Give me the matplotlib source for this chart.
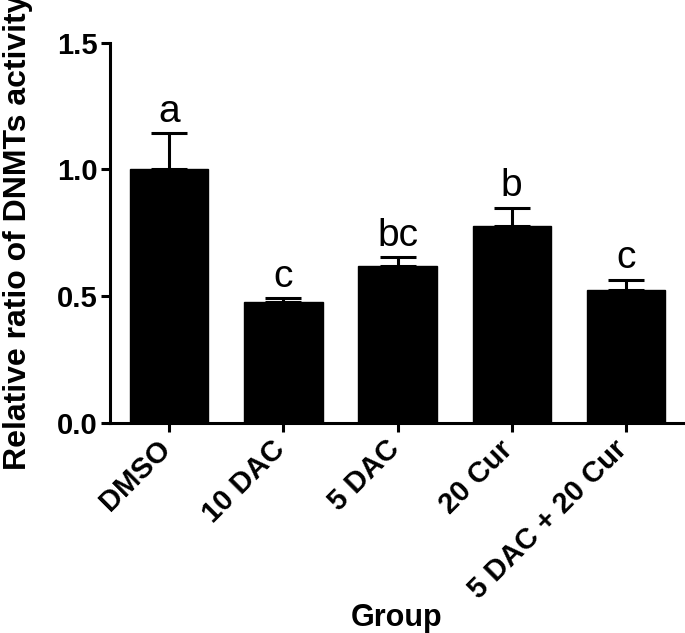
# plot.py
# Bar chart of relative DNMT activity per treatment group, with SEM bars and letters.

import numpy as np
import matplotlib
matplotlib.use('Agg')
import matplotlib.pyplot as plt
import matplotlib.transforms as mtransforms

plt.rcParams['font.family'] = ['Liberation Sans', 'DejaVu Sans']

# Data
groups = ['DMSO', '10 DAC', '5 DAC', '20 Cur', '5 DAC + 20 Cur']
means = [1.00, 0.475, 0.620, 0.775, 0.522]
errors = [0.142, 0.015, 0.032, 0.073, 0.042]
letters = ['a', 'c', 'bc', 'b', 'c']

x = np.arange(len(groups))

fig = plt.figure(figsize=(6.85, 6.33), dpi=100)
ax = fig.add_axes([0.1606, 0.3325, 0.8379, 0.6000])

ax.bar(x, means, width=0.685, color='black', edgecolor='black', zorder=2)
ax.errorbar(x, means, yerr=[np.zeros(len(means)), errors], fmt='none',
            ecolor='black', elinewidth=2.2, capsize=13, capthick=2.2, zorder=1)

# Significance letters above each error bar
for xi, m, e, lab in zip(x, means, errors, letters):
    ax.text(xi, m + e + 0.045, lab, ha='center', va='baseline',
            fontsize=28, clip_on=False)

ax.set_xlim(-0.52, 4.51)
ax.set_ylim(0, 1.5)
ax.set_yticks([0.0, 0.5, 1.0, 1.5])
ax.set_yticklabels(['0.0', '0.5', '1.0', '1.5'])
ax.set_xticks(x)
ax.set_xticklabels(groups, rotation=45, ha='right')

ax.spines['top'].set_visible(False)
ax.spines['right'].set_visible(False)
ax.spines['left'].set_linewidth(2.2)
ax.spines['bottom'].set_linewidth(2.2)
ax.tick_params(axis='both', length=6.5, width=2.2, direction='out')
ax.tick_params(axis='y', pad=2.5)
ax.tick_params(axis='x', pad=2.5)

for lbl in ax.get_xticklabels() + ax.get_yticklabels():
    lbl.set_fontweight('bold')
    lbl.set_fontsize(21)

# nudge the rotated group labels a little to the right, like the original
# (done after tick_params, which resets the label transforms)
shift = mtransforms.ScaledTranslation(7 / 100, 0, fig.dpi_scale_trans)
for lbl in ax.get_xticklabels():
    lbl.set_transform(lbl.get_transform() + shift)

ax.set_ylabel('Relative ratio of DNMTs activity', fontsize=23, fontweight='bold')
ax.yaxis.set_label_coords(-0.134, 0.5)
ax.set_xlabel('Group', fontsize=22, fontweight='bold')
ax.xaxis.set_label_coords(0.5, -0.475)

fig.savefig('out.png', dpi=100)
